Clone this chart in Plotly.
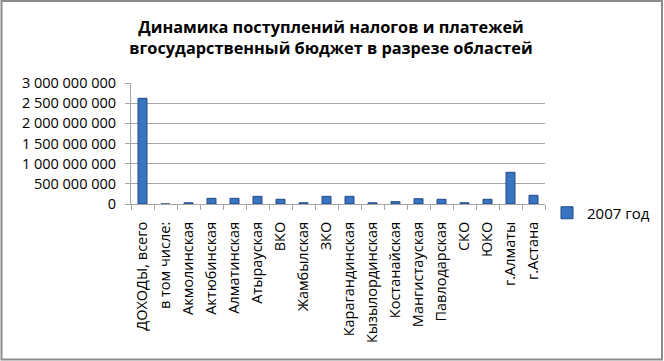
import plotly.graph_objects as go

categories = ["ДОХОДЫ, всего", "в том числе:", "Акмолинская", "Актюбинская", "Алматинская",
              "Атырауская", "ВКО", "Жамбылская", "ЗКО", "Карагандинская", "Кызылординская",
              "Костанайская", "Мангистауская", "Павлодарская", "СКО", "ЮКО", "г.Алматы", "г.Астана"]
values_2007 = [2620000000, 0, 30000000, 141000000, 141000000,
               190000000, 117000000, 30000000, 190000000, 190000000, 30000000,
               57000000, 131000000, 117000000, 30000000, 117000000, 786000000, 216000000]
series_name = "2007 год"
y_ticks = [0, 500000000, 1000000000, 1500000000, 2000000000, 2500000000, 3000000000]
title_text = "Динамика поступлений налогов и платежей<br>вгосударственный бюджет в разрезе областей"

W, H = 664, 361
L, R, T, B = 131, 119, 83, 157
pw, ph = W - L - R, H - T - B

fig = go.Figure()
fig.add_trace(go.Bar(
    x=categories, y=values_2007, name=series_name,
    marker=dict(color="#3874C0", line=dict(color="#1F4A86", width=1)),
    showlegend=True,
))

font_fam = "Open Sans, Liberation Sans, sans-serif"
fig.update_layout(
    width=W, height=H,
    margin=dict(l=L, r=R, t=T, b=B, autoexpand=False),
    paper_bgcolor="white", plot_bgcolor="white",
    separators=". ",
    bargap=0.61,
    showlegend=True,
    title=dict(text="<b>" + title_text + "</b>", x=(331 - L) / pw, xanchor="center", xref="paper",
               y=(H - 33) / H, yanchor="middle",
               font=dict(family=font_fam, size=16.3, color="black")),
    legend=dict(x=(547 - L) / pw, y=(204 - 213) / ph, xanchor="left", yanchor="middle",
                font=dict(family=font_fam, size=15, color="black"),
                bgcolor="rgba(0,0,0,0)"),
    font=dict(family=font_fam, size=14, color="black"),
)
fig.update_yaxes(
    range=[0, 3000000000], tickvals=y_ticks, tickformat=",d", automargin=False,
    showgrid=True, gridcolor="#A6A6A6", gridwidth=1,
    showline=True, linecolor="#A6A6A6", ticks="outside", ticklen=5, tickcolor="#A6A6A6",
    ticklabelstandoff=6,
    tickfont=dict(family=font_fam, size=14.5, color="black"), zeroline=False,
)
fig.update_xaxes(
    tickangle=-90, showline=True, linecolor="#A6A6A6", ticks="outside", ticklen=5,
    tickcolor="#A6A6A6", tickson="boundaries", automargin=False,
    ticklabelstandoff=11,
    tickfont=dict(family=font_fam, size=14.5, color="black"),
)
# outer chart border
fig.add_shape(type="rect", xref="paper", yref="paper",
              x0=(1.5 - L) / pw, x1=(662 - L) / pw,
              y0=(H - B - 359.5) / ph, y1=(H - B - 1) / ph,
              line=dict(color="#8C8C8C", width=2), fillcolor="rgba(0,0,0,0)", layer="below")

fig.write_html("out.html", config={"displayModeBar": False},
               post_script="document.body.style.margin='0';document.body.style.overflow='hidden';")
